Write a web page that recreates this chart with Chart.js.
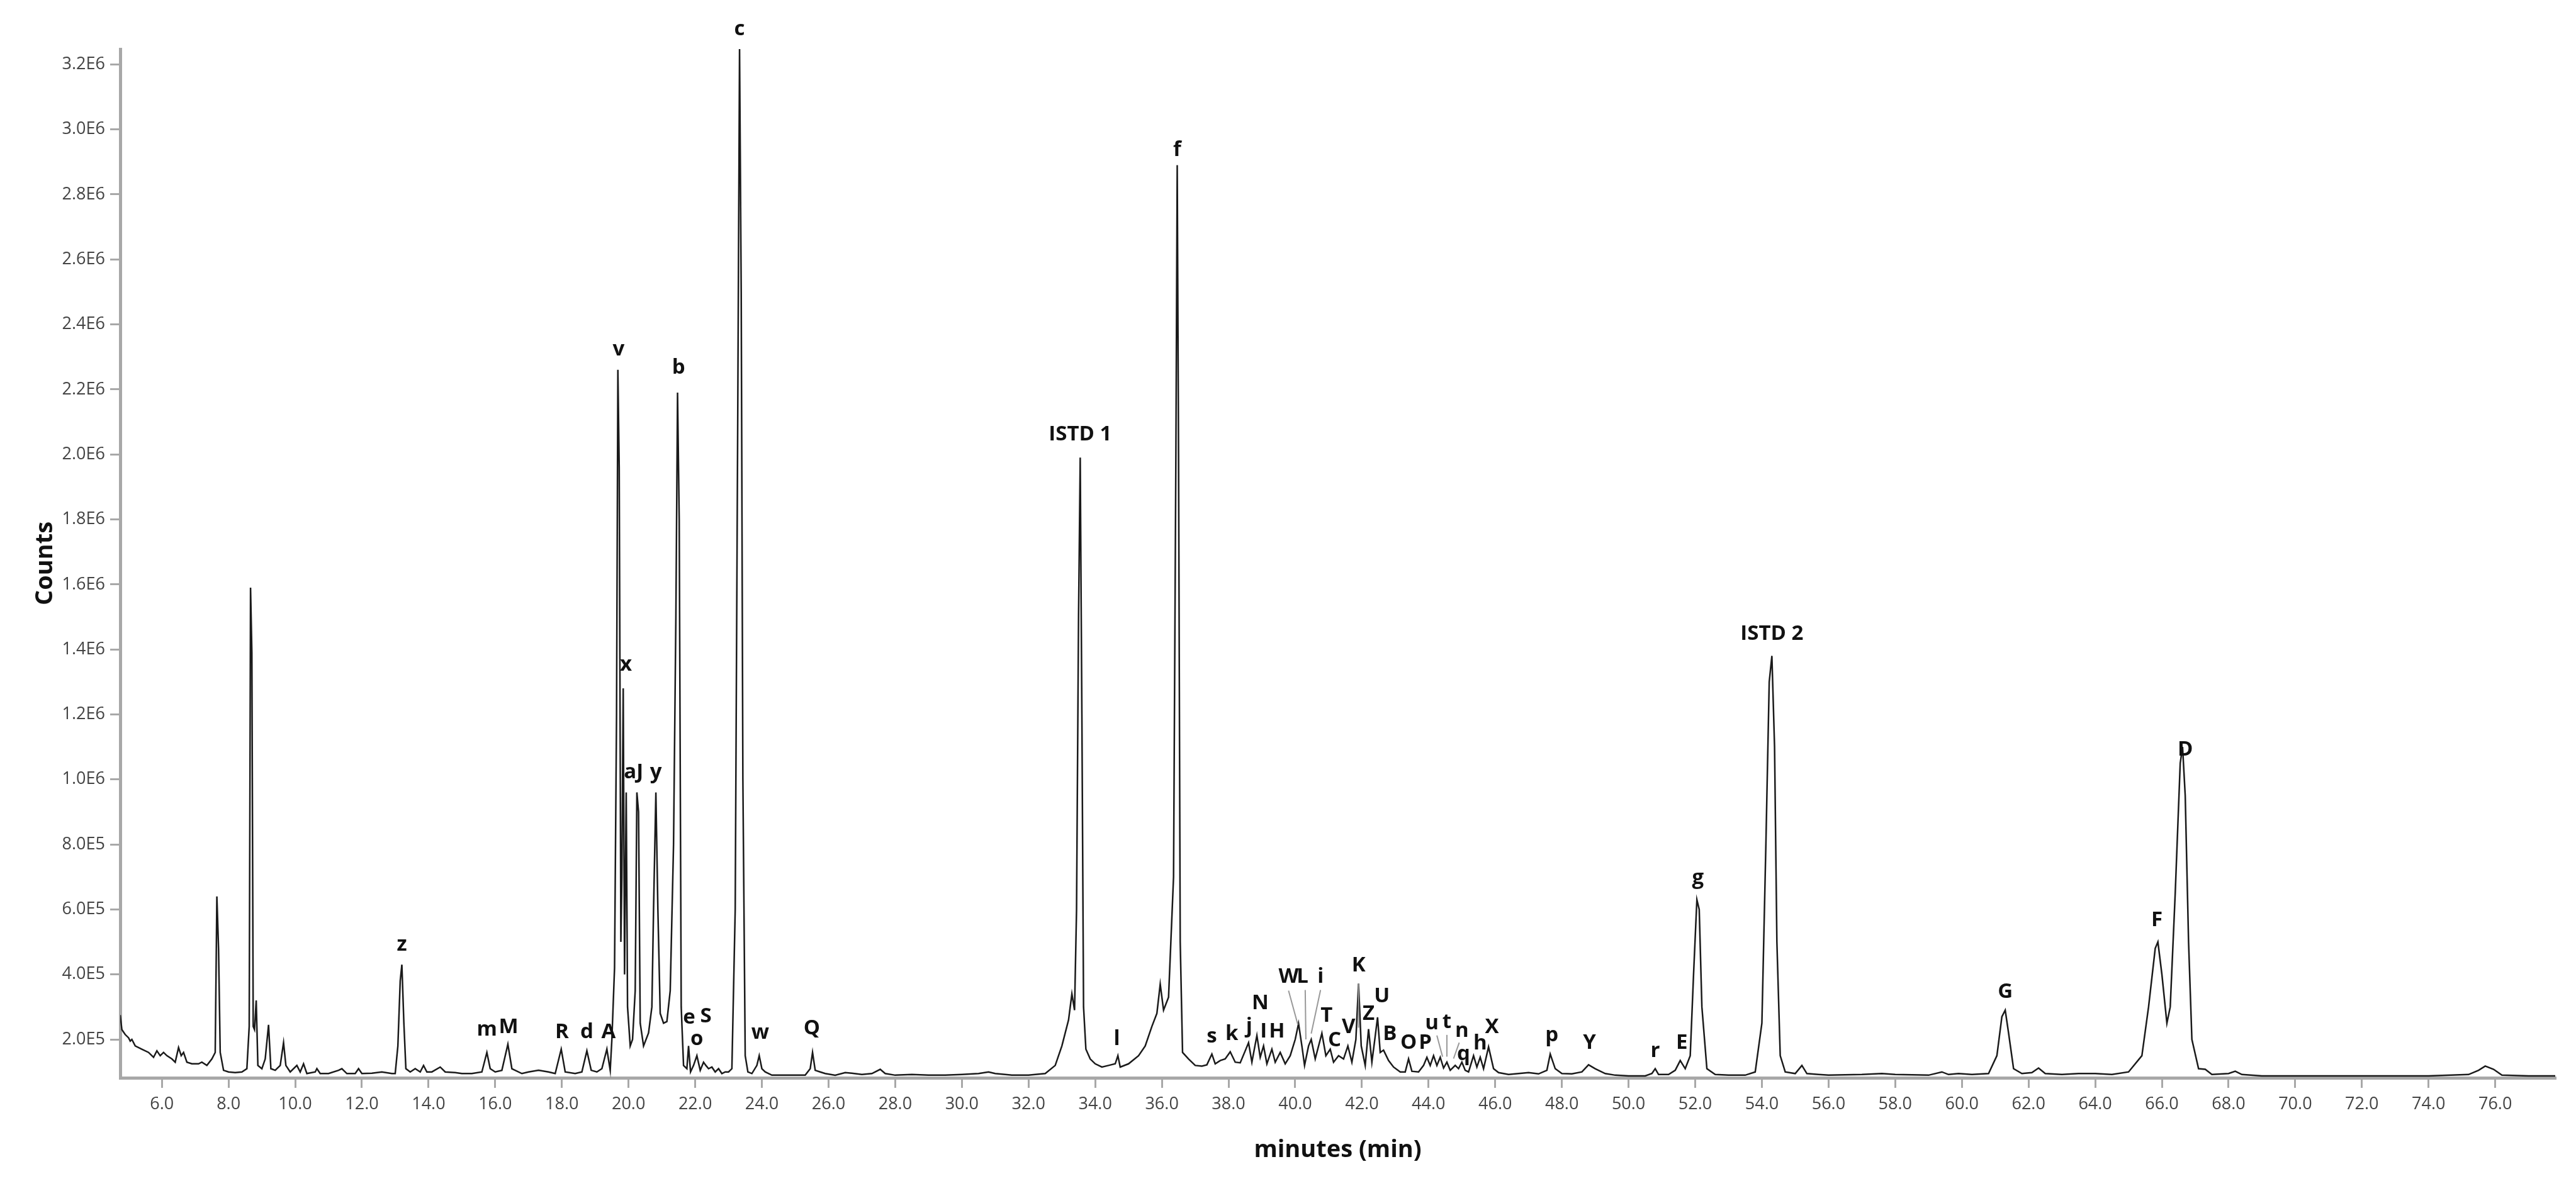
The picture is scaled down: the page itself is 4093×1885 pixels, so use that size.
<!DOCTYPE html>
<html><head><meta charset="utf-8">
<script src="https://cdn.jsdelivr.net/npm/chart.js@4/dist/chart.umd.min.js"></script>
<style>html,body{margin:0;padding:0;background:#fff}#wrap{width:4093px;height:1885px}</style>
</head><body><div id="wrap"><canvas id="c" width="4093" height="1885"></canvas></div>
<script>
// retention times (min) and counts (thousands)
const times = [4.75,4.8,4.9,5.0,5.05,5.1,5.2,5.4,5.6,5.75,5.85,5.95,6.05,6.15,6.3,6.4,6.5,6.58,6.65,6.75,6.9,7.1,7.2,7.35,7.5,7.6,7.65,7.7,7.75,7.85,8.0,
8.2,8.4,8.55,8.62,8.66,8.7,8.74,8.78,8.83,8.88,9.0,9.1,9.2,9.27,9.4,9.55,9.65,9.72,9.85,10.05,10.15,10.25,10.35,10.6,10.65,10.75,11.0,11.3,11.4,11.55,11.8,11.9,12.0,12.3,12.6,12.9,13.0,13.08,13.15,13.2,13.26,13.32,13.45,13.6,13.75,13.85,13.95,14.1,14.35,14.5,14.8,15.0,15.3,15.6,15.75,15.85,16.0,16.2,16.38,16.5,16.8,17.0,17.3,17.6,17.8,17.98,18.1,18.4,18.6,18.75,18.88,19.05,19.2,19.35,19.45,
19.5,19.58,19.64,19.68,19.72,19.77,19.8,19.84,19.88,19.93,19.97,20.05,20.12,20.2,20.25,20.3,20.35,20.45,20.6,20.7,20.75,20.82,20.88,20.95,21.05,21.15,21.25,21.35,21.42,21.47,21.52,21.58,21.65,21.75,21.8,21.86,21.95,22.05,22.15,22.25,22.32,22.4,22.5,22.6,22.7,22.8,22.9,23.0,23.1,23.2,23.27,23.33,23.38,23.43,23.5,23.58,23.7,23.85,23.92,24.0,24.1,24.3,25.3,25.45,25.52,25.6,25.75,25.9,26.2,26.5,26.7,27.0,27.3,27.55,27.7,28.0,28.5,29.0,29.5,30.0,30.5,30.8,31.0,31.5,32.0,32.5,32.8,33.0,33.2,33.3,33.38,33.44,33.5,33.55,33.6,33.65,33.72,33.85,34.0,34.2,34.4,34.6,34.68,34.75,35.0,35.3,35.5,35.7,35.85,35.95,36.05,36.2,36.35,36.42,36.46,36.5,36.55,36.62,36.8,37.0,37.2,37.35,37.5,37.6,37.75,37.9,38.05,38.2,38.35,38.5,38.6,38.7,38.85,38.95,39.05,39.15,39.3,39.4,39.55,39.7,39.85,40.0,40.1,40.2,40.28,40.4,40.48,40.6,40.8,40.92,41.05,41.15,41.3,41.45,41.58,41.7,41.82,41.9,41.98,42.1,42.2,42.3,42.4,42.47,42.55,42.65,42.8,42.95,43.15,43.3,43.4,43.5,43.7,43.85,43.95,44.05,44.15,44.25,44.35,44.45,44.55,44.65,44.8,44.9,45.0,45.1,45.2,45.35,45.45,45.55,45.65,45.8,45.95,46.1,46.4,46.7,47.0,47.3,47.55,47.65,47.8,48.0,48.3,48.6,48.8,49.0,49.3,49.6,50.0,50.5,50.7,50.8,50.9,51.2,51.4,51.55,51.7,51.85,51.95,52.05,52.12,52.2,52.35,52.6,53.0,53.5,53.8,54.0,54.12,54.22,54.3,54.38,54.45,54.55,54.7,55.0,55.2,55.35,55.7,56.0,57.0,57.6,58.0,59.0,59.4,59.6,59.9,60.3,60.8,61.05,61.2,61.3,61.4,61.55,61.8,62.1,62.3,62.5,63.0,63.5,64.0,64.5,65.0,65.4,65.6,65.8,65.88,66.0,66.15,66.25,66.4,66.55,66.62,66.7,66.8,66.9,67.1,67.3,67.5,68.0,68.2,68.4,69.0,70.0,72.0,74.0,75.2,75.5,75.7,75.95,76.2,77.0,77.8];
const counts = [275,230,215,205,195,200,180,170,160,145,165,150,160,150,140,130,175,150,160,130,125,125,130,120,140,160,640,480,160,105,100,
98,100,110,240,1590,1390,240,230,320,120,110,140,245,110,105,120,190,120,100,120,100,125,95,100,110,95,95,105,110,95,95,110,95,96,100,95,95,180,380,430,250,110,100,110,100,120,100,100,115,100,98,95,95,100,160,110,100,105,185,110,95,100,105,100,95,170,100,95,100,165,105,100,110,170,105,
200,420,1200,2260,1960,500,700,1280,400,960,300,180,200,350,960,900,250,180,220,300,600,960,600,280,250,255,350,800,1500,2190,1800,300,120,110,180,100,120,150,105,130,120,110,115,100,110,95,100,100,110,600,2000,3250,2500,1000,150,100,95,120,150,110,100,90,90,110,160,105,100,95,90,98,96,92,95,108,95,90,92,90,90,92,95,100,95,90,90,95,120,180,260,340,290,600,1500,1990,1200,300,170,140,125,115,120,125,150,115,125,150,180,240,280,370,290,330,700,2000,2890,2000,500,160,140,120,118,122,155,125,135,140,162,130,128,165,190,130,212,145,180,125,170,130,160,125,150,200,249,180,120,180,200,140,219,150,170,130,150,140,180,130,200,372,180,120,232,130,210,268,160,167,135,115,100,100,140,102,100,120,145,120,150,120,145,112,130,105,120,110,130,105,100,150,115,145,110,177,110,98,92,95,98,94,105,155,110,95,94,100,122,110,95,90,88,88,95,110,92,92,105,135,110,150,400,630,600,300,110,92,90,90,100,250,800,1300,1380,1100,500,150,100,95,120,95,92,90,92,95,92,90,100,92,95,92,95,150,270,290,220,110,95,98,112,95,92,95,95,92,100,150,300,480,500,400,250,300,650,1050,1100,950,500,200,110,108,92,95,102,92,88,88,88,88,92,105,118,108,90,88,88];
// peak labels: text, time, count (thousands) at label bottom
const peakNames = ['z','m','M','R','d','A','v','x','aJ','y','b','e','o','S','c','w','Q','ISTD 1','l','f','s','k','j','N','I','H','W','L','i','T','C','V','K','Z','U','B','O','P','u','t','n','q','h','X','p','Y','r','E','g','ISTD 2','G','F','D'];
const peakTimes = [13.2,15.75,16.4,18.0,18.75,19.4,19.7,19.92,20.15,20.82,21.5,21.82,22.05,22.32,23.33,23.95,25.5,33.55,34.65,36.46,37.5,38.1,38.62,38.95,39.05,39.45,39.8,40.22,40.76,40.94,41.18,41.6,41.9,42.2,42.6,42.84,43.4,43.9,44.1,44.55,45.0,45.05,45.55,45.9,47.7,48.83,50.8,51.6,52.08,54.3,61.3,65.85,66.7];
const peakLabelY = [460,198,205,190,190,190,2290,1320,990,990,2235,235,168,238,3275,188,202,2030,168,2905,176,184,208,280,192,192,360,360,360,240,165,205,396,247,300,184,158,158,218,221,195,122,156,205,181,158,132,158,665,1415,315,535,1060];
// leader lines: time1, count1, time2, count2
const leadT1 = [39.8,40.3,40.76,41.9,44.25,44.55,44.92];
const leadV1 = [350,352,352,372,212,214,190];
const leadT2 = [40.08,40.32,40.48,41.9,44.42,44.55,44.75];
const leadV2 = [245,200,218,236,147,147,141];
const xTicks = [6,8,10,12,14,16,18,20,22,24,26,28,30,32,34,36,38,40,42,44,46,48,50,52,54,56,58,60,62,64,66,68,70,72,74,76];
const yTicks = [200,400,600,800,1000,1200,1400,1600,1800,2000,2200,2400,2600,2800,3000,3200];

const pts = times.map((t,i)=>({x:t,y:counts[i]}));
const fmtY = v => v>=1000 ? (v/1000).toFixed(1)+'E6' : (v/100).toFixed(1)+'E5';

const annot = {
  id:'annot',
  afterDatasetsDraw(ch){
    const c=ch.ctx, xs=ch.scales.x, ys=ch.scales.y;
    c.save();
    c.strokeStyle='#999'; c.lineWidth=2;
    leadT1.forEach((t,i)=>{c.beginPath();c.moveTo(xs.getPixelForValue(t),ys.getPixelForValue(leadV1[i]));c.lineTo(xs.getPixelForValue(leadT2[i]),ys.getPixelForValue(leadV2[i]));c.stroke();});
    c.fillStyle='#111'; c.font='bold 33px "Open Sans"'; c.textAlign='center'; c.textBaseline='bottom';
    peakNames.forEach((n,i)=>c.fillText(n,xs.getPixelForValue(peakTimes[i]),ys.getPixelForValue(peakLabelY[i])));
    c.font='bold 38px "Open Sans"';
    c.textBaseline='middle';
    c.fillText('minutes (min)',(ch.chartArea.left+ch.chartArea.right)/2,1828);
    c.translate(72,(ch.chartArea.top+ch.chartArea.bottom)/2); c.rotate(-Math.PI/2);
    c.fillText('Counts',0,0);
    c.restore();
  }
};

new Chart(document.getElementById('c'),{
  type:'scatter',
  data:{datasets:[{data:pts,showLine:true,borderColor:'#1a1a1a',borderWidth:2.5,pointRadius:0,tension:0}]},
  options:{
    responsive:false,animation:false,
    layout:{padding:{left:0,top:78,right:33,bottom:0}},
    plugins:{legend:{display:false},tooltip:{enabled:false}},
    scales:{
      x:{type:'linear',min:4.75,max:77.8,
        afterBuildTicks:s=>{s.ticks=xTicks.map(v=>({value:v}));},
        afterFit:s=>{s.height=172;},
        ticks:{callback:v=>v.toFixed(1),color:'#444',font:{family:'"Open Sans"',size:27},padding:10,maxRotation:0,autoSkip:false},
        grid:{drawOnChartArea:false,drawTicks:true,tickLength:16,color:'#a8a8a8',lineWidth:3},
        border:{color:'#a8a8a8',width:5}},
      y:{min:82,max:3247,
        afterBuildTicks:s=>{s.ticks=yTicks.map(v=>({value:v}));},
        afterFit:s=>{s.width=191;},
        ticks:{callback:v=>fmtY(v),color:'#444',font:{family:'"Open Sans"',size:27},padding:8,autoSkip:false},
        grid:{drawOnChartArea:false,drawTicks:true,tickLength:16,color:'#a8a8a8',lineWidth:3},
        border:{color:'#a8a8a8',width:5}}
    }
  },
  plugins:[annot]
});
</script></body></html>
